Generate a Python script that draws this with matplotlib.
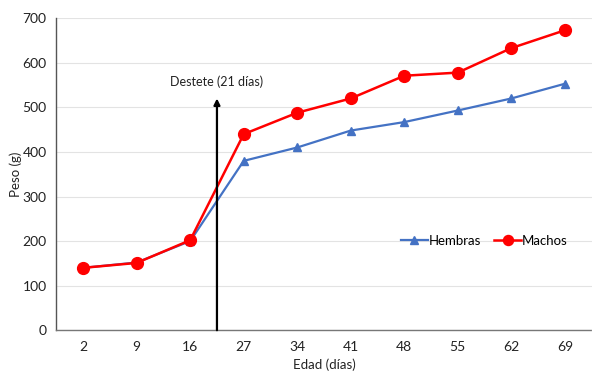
import matplotlib
matplotlib.use("Agg")
import matplotlib.pyplot as plt
import numpy as np

# data
edad = ["2", "9", "16", "27", "34", "41", "48", "55", "62", "69"]
hembras = [140, 152, 200, 380, 410, 448, 467, 493, 520, 553]
machos = [140, 151, 202, 440, 488, 520, 571, 578, 633, 673]

plt.rcParams['font.family'] = ['Lato', 'DejaVu Sans']

fig = plt.figure(figsize=(6, 3.8), dpi=100)
ax = fig.add_axes([0.094, 0.131, 0.892, 0.821])

x = np.arange(len(edad))
ax.plot(x, hembras, color='#4472C4', marker='^', markersize=6, linewidth=1.6,
        label='Hembras', zorder=3)
ax.plot(x, machos, color='#FF0000', marker='o', markersize=8.5, linewidth=1.8,
        label='Machos', zorder=4)

# weaning arrow
ax.annotate('', xy=(2.5, 520), xytext=(2.5, 0),
            arrowprops=dict(arrowstyle='-|>', color='black', lw=1.6,
                            mutation_scale=9, shrinkA=0, shrinkB=0),
            zorder=5)
ax.text(2.5, 558, 'Destete (21 días)', ha='center', va='center', fontsize=9,
        color='#222222')

ax.set_xlim(-0.5, len(edad) - 0.5)
ax.set_ylim(0, 700)
ax.set_yticks(range(0, 701, 100))
ax.set_xticks(x)
ax.set_xticklabels(edad)
ax.tick_params(length=0, labelsize=10, colors='#222222', pad=8)
ax.tick_params(axis='y', pad=7)

ax.grid(axis='y', color='#E3E3E3', linewidth=0.8)
ax.set_axisbelow(True)
for s in ['top', 'right']:
    ax.spines[s].set_visible(False)
ax.spines['left'].set_color('#555555')
ax.spines['left'].set_linewidth(1.0)
ax.spines['bottom'].set_color('#777777')
ax.spines['bottom'].set_linestyle((0, (1, 1)))
ax.spines['bottom'].set_linewidth(1.0)

ax.set_xlabel('Edad (días)', fontsize=9.5, color='#222222', labelpad=4)
ax.set_ylabel('Peso (g)', fontsize=9.5, color='#222222', labelpad=0.5)

ax.legend(loc='center', bbox_to_anchor=(0.80, 0.286), ncol=2, frameon=False,
          fontsize=9.5, handlelength=2.0, handletextpad=0.1, columnspacing=1.0,
          markerscale=0.85)

fig.savefig('out.png', dpi=100)
